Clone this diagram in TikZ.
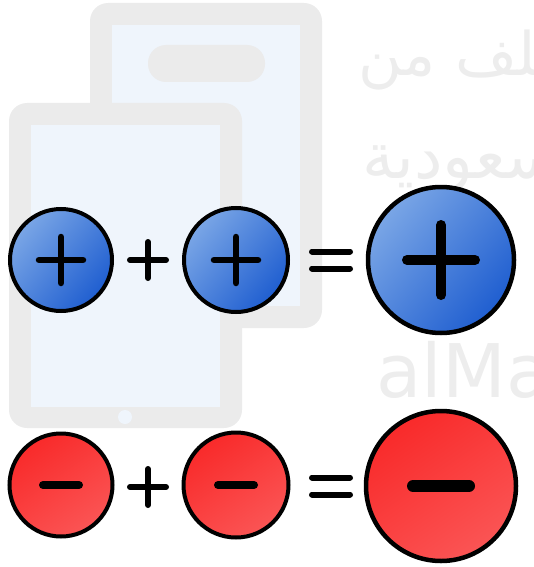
\documentclass[tikz,border=0pt]{standalone}
\usepackage{fontspec}
\setmainfont{DejaVu Sans}
\newfontfamily\arabicfont[Script=Arabic]{DejaVu Sans}
\TeXXeTstate=1
\begin{document}
\begin{tikzpicture}[x=1pt,y=-1pt,
  wmgray/.style={fill=wmG, draw=none},
  wmscreen/.style={fill=wmB, draw=none},
  wmtext/.style={text=wmT, inner sep=0pt},
  posball/.style={circle, draw=black, line width=4pt, inner sep=0pt,
     shading=axis, top color=ballLight, bottom color=ballDark, shading angle=50},
  negball/.style={circle, draw=black, line width=4pt, inner sep=0pt,
     shading=axis, top color=redMain, middle color=redMain, bottom color=redMain!80!white, shading angle=35},
  sign/.style={line width=#1, line cap=round, black},
]
\definecolor{wmG}{HTML}{EBEBEB}
\definecolor{wmB}{HTML}{EFF5FC}
\definecolor{wmT}{HTML}{EDEDED}
\definecolor{ballLight}{HTML}{7AA6E6}
\definecolor{ballDark}{HTML}{1F5ED0}
\definecolor{redMain}{HTML}{F92A2A}
\useasboundingbox (0,0) rectangle (534,567);
\begin{scope}
\clip (0,0) rectangle (534,567);
% watermark tablets
\fill[wmgray, rounded corners=18pt] (90,3) rectangle (322,328);
\fill[wmscreen] (112,25) rectangle (300,306);
\fill[wmgray, rounded corners=18pt] (148,45) rectangle (265,82);
\fill[wmgray, rounded corners=18pt] (9,103) rectangle (242,428);
\fill[wmscreen] (31,125) rectangle (220,407);
\fill[wmscreen] (125,417) circle (7);
% watermark texts
\node[wmtext, anchor=base west, font=\arabicfont\fontsize{60}{60}\selectfont] (w1) at (358,76) {\beginR ملف من\endR};
\node[wmtext, anchor=base west, font=\arabicfont\fontsize{64}{64}\selectfont] (w2) at (362,178) {\beginR السعودية\endR};
\node[wmtext, anchor=base west, font=\fontsize{74}{74}\selectfont] (w3) at (376,397) {alManahj};
\end{scope}
% top row
\node[posball, minimum size=102pt] (p1) at (61,260) {};
\node[posball, minimum size=104pt] (p2) at (236,260) {};
\node[posball, minimum size=146pt, line width=4.5pt] (p3) at (441,260) {};
\draw[sign=6.5pt] ([xshift=-22pt]p1.center) -- ([xshift=22pt]p1.center);
\draw[sign=6.5pt] ([yshift=-23pt]p1.center) -- ([yshift=23pt]p1.center);
\draw[sign=6.5pt] ([xshift=-22pt]p2.center) -- ([xshift=22pt]p2.center);
\draw[sign=6.5pt] ([yshift=-23pt]p2.center) -- ([yshift=23pt]p2.center);
\draw[sign=10pt] ([xshift=-34pt]p3.center) -- ([xshift=34pt]p3.center);
\draw[sign=10pt] ([yshift=-35pt]p3.center) -- ([yshift=35pt]p3.center);
\coordinate (op1) at (148,260);
\draw[sign=6pt] ([xshift=-18pt]op1) -- ([xshift=18pt]op1);
\draw[sign=6pt] ([yshift=-18pt]op1) -- ([yshift=18pt]op1);
\coordinate (eq1) at (331,260);
\draw[sign=6pt] ([shift={(-19pt,-8.5pt)}]eq1) -- ([shift={(19pt,-8.5pt)}]eq1);
\draw[sign=6pt] ([shift={(-19pt,8.5pt)}]eq1) -- ([shift={(19pt,8.5pt)}]eq1);
% bottom row
\node[negball, minimum size=103pt] (n1) at (61,485) {};
\node[negball, minimum size=105pt] (n2) at (236,485) {};
\node[negball, minimum size=150pt, line width=4.5pt] (n3) at (441,486) {};
\draw[sign=8pt] ([xshift=-18pt]n1.center) -- ([xshift=18pt]n1.center);
\draw[sign=8pt] ([xshift=-18pt]n2.center) -- ([xshift=18pt]n2.center);
\draw[sign=12pt] ([xshift=-28pt]n3.center) -- ([xshift=28pt]n3.center);
\coordinate (op2) at (148,487);
\draw[sign=6pt] ([xshift=-18pt]op2) -- ([xshift=18pt]op2);
\draw[sign=6pt] ([yshift=-18pt]op2) -- ([yshift=18pt]op2);
\coordinate (eq2) at (331,486);
\draw[sign=6pt] ([shift={(-19pt,-8.5pt)}]eq2) -- ([shift={(19pt,-8.5pt)}]eq2);
\draw[sign=6pt] ([shift={(-19pt,8.5pt)}]eq2) -- ([shift={(19pt,8.5pt)}]eq2);
\end{tikzpicture}
\end{document}
